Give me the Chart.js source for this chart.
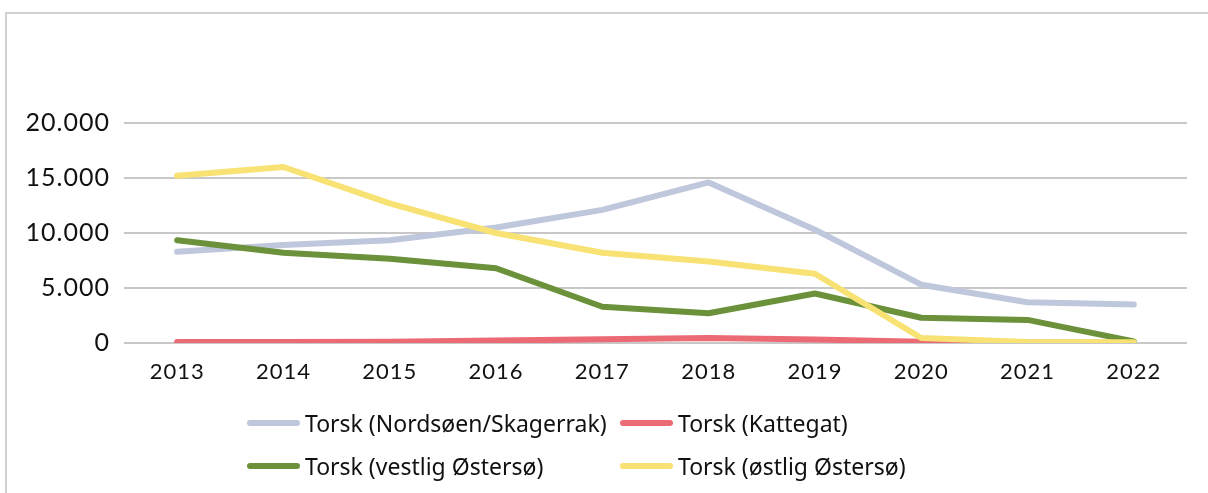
<!DOCTYPE html>
<html>
<head>
<meta charset="utf-8">
<script src="https://cdn.jsdelivr.net/npm/chart.js@4"></script>
<style>
  html, body { margin: 0; padding: 0; background: #fff; }
  #wrap { position: relative; width: 1208px; height: 493px; overflow: hidden; }
  #frame { position: absolute; left: 5px; top: 12px; width: 1210px; height: 500px;
           border-left: 2px solid #d0d0d0; border-top: 2px solid #d0d0d0; }
  #cv { position: absolute; left: 0; top: 0; }
  #legend { position: absolute; left: 247px; top: 405px; display: grid;
            grid-template-columns: 373px 373px; row-gap: 7px;
            font-family: "Noto Sans", sans-serif; font-size: 23px; color: #111; }
  .item { display: flex; align-items: center; height: 36px; }
  .sw { width: 53px; height: 6px; border-radius: 3px; margin-right: 5px; }
</style>
</head>
<body>
<div id="wrap">
  <div id="frame"></div>
  <canvas id="cv" width="1208" height="493"></canvas>
  <div id="legend"></div>
</div>
<script>
const years = ['2013', '2014', '2015', '2016', '2017', '2018', '2019', '2020', '2021', '2022'];
const seriesNames = ['Torsk (Nordsøen/Skagerrak)', 'Torsk (Kattegat)', 'Torsk (vestlig Østersø)', 'Torsk (østlig Østersø)'];
const nordsoen = [8300, 8900, 9350, 10500, 12100, 14600, 10300, 5300, 3700, 3500];
const kattegat = [100, 100, 120, 220, 330, 450, 320, 120, 50, 20];
const vestlig = [9350, 8200, 7650, 6800, 3300, 2700, 4500, 2300, 2100, 150];
const ostlig = [15200, 16000, 12700, 10000, 8200, 7400, 6300, 450, 100, 60];
const colors = ['#BEC7DB', '#EC6A74', '#6B913B', '#F8E274'];

const datasets = [nordsoen, kattegat, vestlig, ostlig].map((vals, i) => ({
    label: seriesNames[i],
    data: vals,
    borderColor: colors[i],
    backgroundColor: colors[i],
    borderWidth: 6,
    pointRadius: 0,
    tension: 0,
    borderCapStyle: 'round',
    borderJoinStyle: 'round',
    order: 4 - i
}));

// a bit of letter spacing so the tick labels come closer to the original's wide figures
const spacing = {
    id: 'spacing',
    beforeDraw: (c) => { c.ctx.letterSpacing = '1px'; }
};

const ctx = document.getElementById('cv').getContext('2d');
const chart = new Chart(ctx, {
    type: 'line',
    data: { labels: years, datasets: datasets },
    plugins: [spacing],
    options: {
        responsive: false,
        animation: false,
        layout: { padding: { top: 123, right: 21, bottom: 100, left: 0 } },
        plugins: {
            legend: { display: false },
            tooltip: { enabled: false }
        },
        scales: {
            x: {
                offset: true,
                grid: { display: false, drawTicks: false, offset: true },
                border: { display: false },
                ticks: { padding: 16, color: '#111', font: { family: 'Lato', size: 22 } },
                afterFit: (s) => { s.height = 50; }
            },
            y: {
                min: 0,
                max: 20000,
                grid: { color: '#c8c8c8', lineWidth: 2, drawTicks: false },
                border: { display: false },
                ticks: {
                    stepSize: 5000,
                    padding: 14,
                    color: '#111',
                    font: { family: 'Lato', size: 25 },
                    callback: (v) => v === 0 ? '0' : v.toLocaleString('da-DK')
                },
                afterFit: (s) => { s.width = 124; }
            }
        }
    }
});

// legend in two aligned columns, built from the chart's datasets
const leg = document.getElementById('legend');
chart.data.datasets.forEach(ds => {
    const item = document.createElement('div');
    item.className = 'item';
    item.innerHTML = '<span class="sw" style="background:' + ds.borderColor + '"></span><span>' + ds.label + '</span>';
    leg.appendChild(item);
});
</script>
</body>
</html>
